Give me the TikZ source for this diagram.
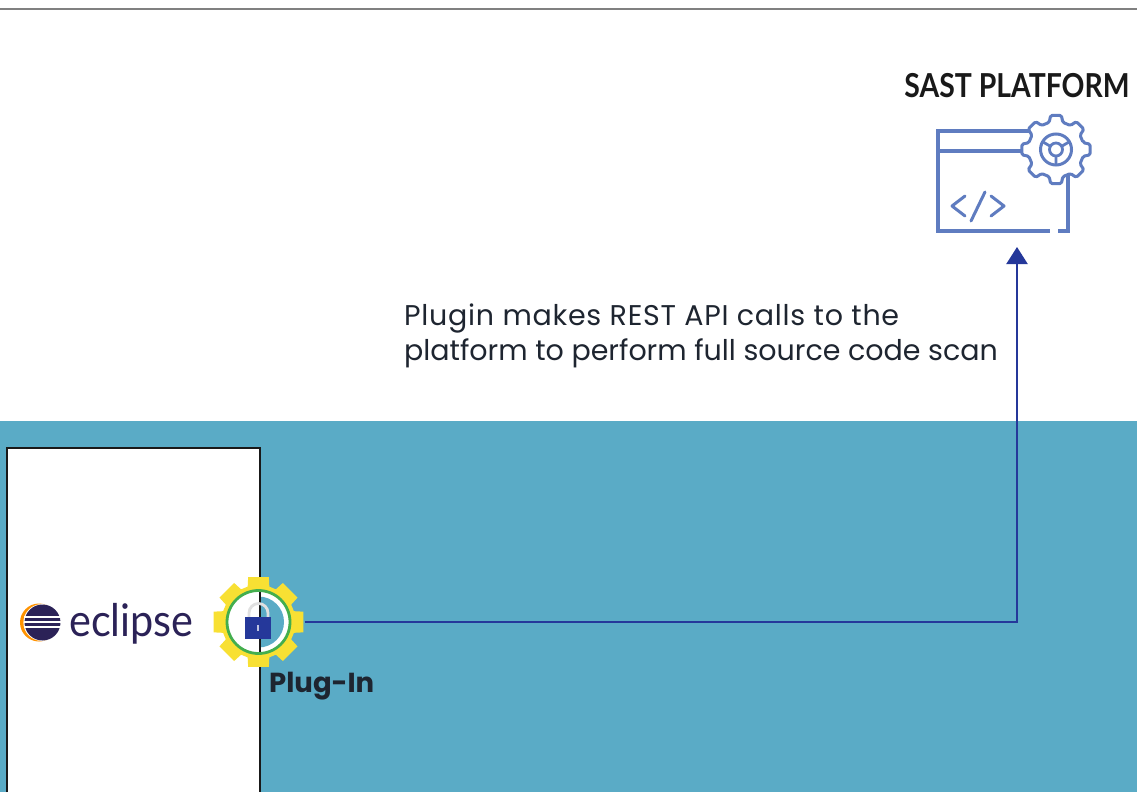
\documentclass[tikz,border=0pt]{standalone}
\usepackage{fontspec}
\setmainfont{Poppins}
\newfontfamily\headfont{Lato}
\newfontfamily\logofont{Lato}
\usetikzlibrary{arrows.meta}
\definecolor{teal}{HTML}{5AABC6}
\definecolor{iconblue}{HTML}{5F7CC0}
\definecolor{linkblue}{HTML}{25389A}
\definecolor{gearyellow}{HTML}{F8E033}
\definecolor{ringgreen}{HTML}{43AE4E}
\definecolor{logoink}{HTML}{2B2257}
\definecolor{inkdark}{HTML}{1E2530}
\tikzset{
  iconline/.style={draw=iconblue,line width=4.2pt},
  iconthin/.style={draw=iconblue,line width=3pt,line cap=round,line join=round},
  link/.style={draw=linkblue,line width=2.2pt,-{Triangle[width=21pt,length=17pt]}},
  bodytext/.style={font=\fontsize{28.5}{34.5}\selectfont,text=inkdark,align=left,inner sep=0pt},
}
\begin{document}
\begin{tikzpicture}[x=1pt,y=-1pt]
\useasboundingbox (0,0) rectangle (1137,792);
\fill[white] (0,0) rectangle (1137,792);
\draw[draw=black!50,line width=2.2pt] (0,9) -- (1137,9);
% teal band and host box
\fill[teal] (0,421) rectangle (1137,792);
\fill[white] (7,448) rectangle (260,792);
\draw[black!90,line width=2.2pt] (7,792) -- (7,448) -- (260,448) -- (260,792);
% header
\node (sasttitle) [font=\headfont\bfseries\fontsize{33}{36}\selectfont,text=black!90,inner sep=0pt,xscale=0.86] at (1017,86) {SAST PLATFORM};
% window icon
\draw[iconline] (1030,131) -- (937.8,131) -- (937.8,231) -- (1050,231);
\draw[iconline] (1058,231) -- (1068,231) -- (1068,175);
\draw[draw=iconblue,line width=3.4pt] (938,151) -- (1028,151);
\draw[iconthin] (965,196) -- (952,206) -- (965,216);
\draw[iconthin] (985,192) -- (971,221);
\draw[iconthin] (991,196) -- (1004,206) -- (991,216);
% icon gear
\begin{scope}[shift={(1056,149.5)}]
\filldraw[fill=white,draw=iconblue,line width=3pt,line join=round,rounded corners=1.5pt]
  (-14:28) \foreach \a in {0,45,...,315}{ -- (\a-14:28) -- (\a-9:34.5) -- (\a+9:34.5) -- (\a+14:28) } -- cycle;
\draw[draw=iconblue,line width=3pt] (0,0) circle (15.5);
\draw[draw=iconblue,line width=2.8pt] (0,0) circle (6.5);
\draw[draw=iconblue,line width=2.8pt] (90:6.5) -- (90:15.5) (210:6.5) -- (210:15.5) (330:6.5) -- (330:15.5);
\end{scope}
\node (sast) [minimum width=132pt,minimum height=116pt,inner sep=0pt,outer sep=0pt] at (1017,189) {};
% caption
\node (caption) [bodytext,anchor=north west] at (404,304) {{\addfontfeature{LetterSpace=2.6}Plugin makes REST API calls to the}\\platform to perform full source code scan};
% eclipse logo
\begin{scope}[shift={(41,622.5)}]
\fill[orange!85!yellow] (-2,0) circle (19);
\fill[white] (0.8,0) circle (18.4);
\fill[logoink] (1.5,0) circle (18);
\fill[white] (-17,-6.3) rectangle (20,-4.3);
\fill[white] (-17,-1.5) rectangle (20,0.7);
\fill[white] (-17,3.5) rectangle (20,5.5);
\end{scope}
\node (eclipselogo) [font=\logofont\fontsize{45}{50}\selectfont,text=logoink,inner sep=0pt,anchor=base west,xscale=0.92] at (69,636) {eclipse};
% plug-in gear
\fill[gearyellow] (-17:37) ++(258.5,622) \foreach \a in {0,45,...,315}{ -- ([shift={(258.5,622)}]\a-17:37) -- ([shift={(258.5,622)}]\a-13:46) -- ([shift={(258.5,622)}]\a+13:46) -- ([shift={(258.5,622)}]\a+17:37) } -- cycle;
\fill[white] (258.5,622) circle (31);
\begin{scope}
\clip (260,590) rectangle (292,654);
\fill[teal] (258.5,622) circle (25.5);
\end{scope}
\draw[black!90,line width=2.2pt] (260,591) -- (260,653);
\draw[ringgreen,line width=2.8pt] (258.5,622) circle (31.5);
% lock
\draw[draw=black!12,line width=2.8pt] (249,618) -- (249,613) arc[start angle=180,end angle=360,radius=9.5] -- (268,618);
\fill[linkblue] (245,617) rectangle (271,639);
\fill[white!70!linkblue] (257,625) rectangle (259,631);
\node (plugin) [circle,minimum size=92pt,inner sep=0pt,outer sep=0pt] at (258.5,622) {};
\node (pluglabel) [font=\bfseries\fontsize{27.5}{30}\selectfont,text=inkdark,inner sep=0pt,anchor=base west] at (269,692) {Plug-In};
% connector
\draw[link] (plugin.east) -| (sast.south);
\end{tikzpicture}
\end{document}
